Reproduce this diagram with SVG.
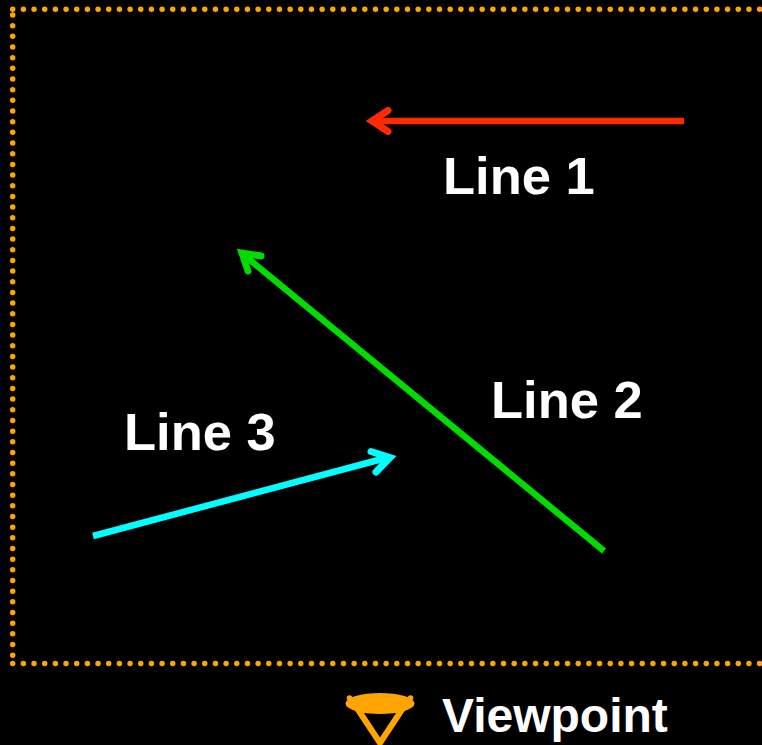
<svg xmlns="http://www.w3.org/2000/svg" width="762" height="745" viewBox="0 0 762 745">
<style>
.l{font-family:"Liberation Sans",Arial,sans-serif;font-weight:700;font-size:52.500px;fill:#fff}
.v{font-size:48px}
.c{fill:none;stroke-width:6.500}
.h{fill:none;stroke-width:7;stroke-linecap:round;stroke-linejoin:miter;stroke-miterlimit:10}
.d{fill:none;stroke:#ffa500;stroke-width:5.500;stroke-linecap:round;stroke-dasharray:0 10.67}
</style>
<rect width="762" height="745" fill="#000"/>
<g id="frame"><path class="d" d="M12.7 9.300H770"/><path class="d" d="M12.7 15V664"/><path class="d" d="M12.7 663.600H770"/></g>
<g id="connectors">
<path class="c" stroke="#ff2a00" d="M684 121H375"/>
<path class="h" stroke="#ff2a00" d="M388 110.500L372 121L388 131.500"/>
<path class="c" stroke="#00dc00" d="M604 551L245 256"/>
<path class="h" stroke="#00dc00" d="M261 256L242 253L248 271"/>
<path class="c" stroke="#00ffff" d="M93 536L386 458"/>
<path class="h" stroke="#00ffff" d="M371 451.500L390 457.700L376 472"/>
</g>
<g id="line1"><text class="l" x="443" y="193.500">Line 1</text></g>
<g id="line2"><text class="l" x="491" y="417.500">Line 2</text></g>
<g id="line3"><text class="l" x="124" y="449.500">Line 3</text></g>
<g id="viewpoint">
<ellipse cx="380" cy="703.500" rx="34.500" ry="10.500" fill="#ffa500"/>
<circle cx="349.500" cy="698" r="2.800" fill="#ffa500"/>
<circle cx="410.500" cy="698" r="2.800" fill="#ffa500"/>
<path d="M357 708L380 743L403 708" fill="none" stroke="#ffa500" stroke-width="6"/>
<text class="v l" x="442" y="732">Viewpoint</text>
</g>
</svg>
